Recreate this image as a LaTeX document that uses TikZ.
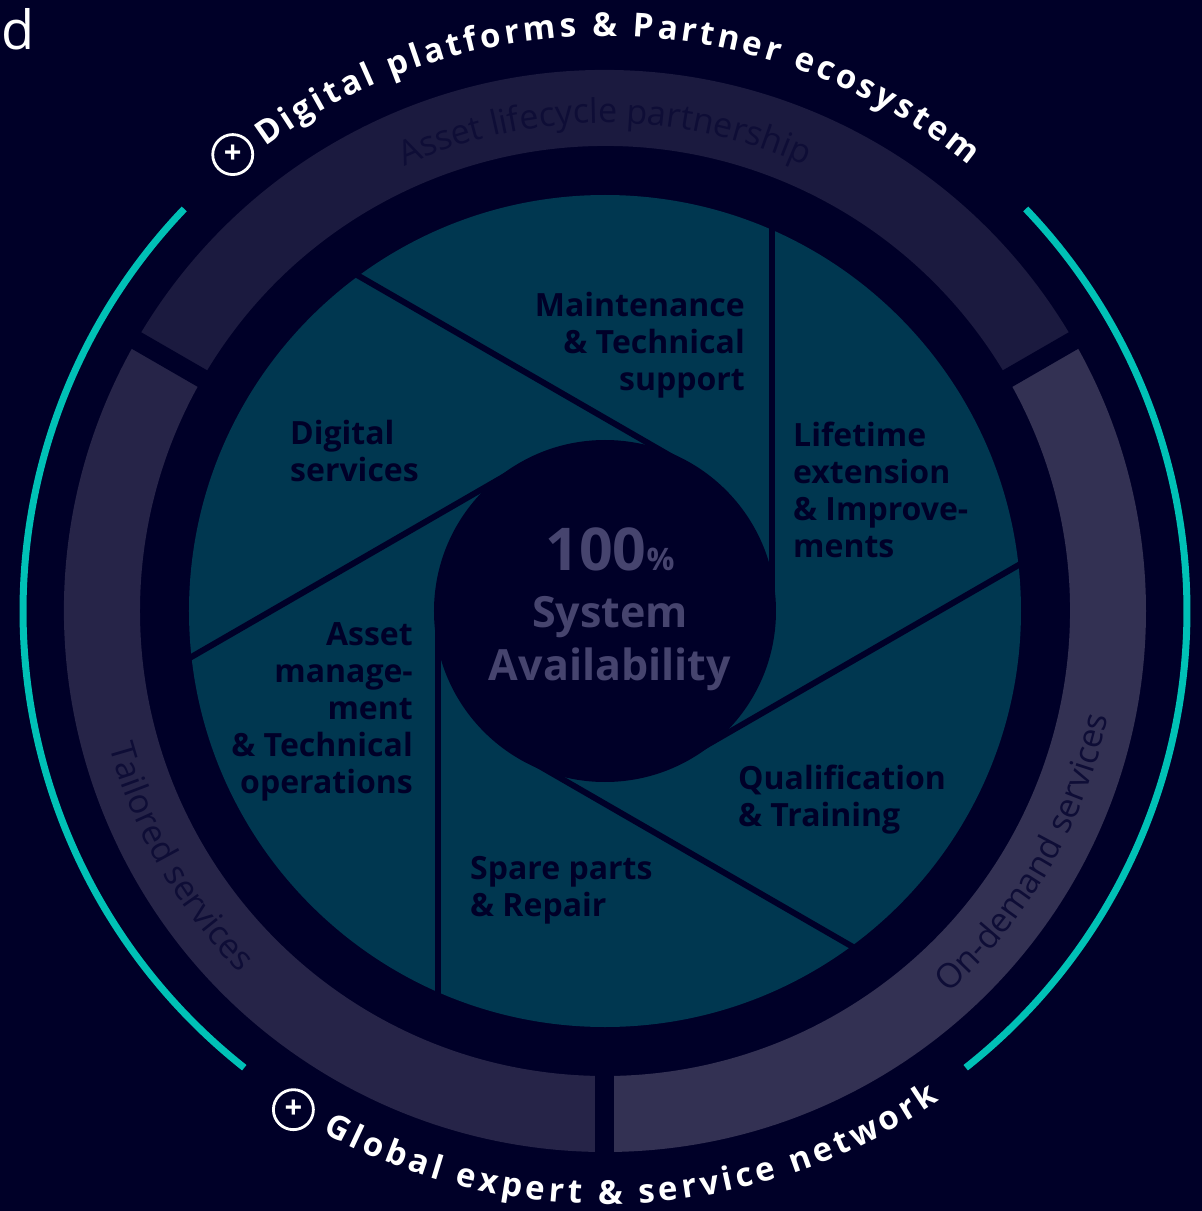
\documentclass[tikz,border=0pt]{standalone}
\usepackage{fontspec}
\setmainfont{Open Sans}
\usetikzlibrary{positioning,decorations.text}

\definecolor{navy}{HTML}{000028}
\definecolor{petrol}{HTML}{003750}
\definecolor{ringteal}{HTML}{00C1B6}
\definecolor{bandtop}{HTML}{1B1A3F}
\definecolor{bandleft}{HTML}{262448}
\definecolor{bandright}{HTML}{333153}
\definecolor{bandink}{HTML}{0E0D36}
\definecolor{hubink}{HTML}{46446E}

\begin{document}
\begin{tikzpicture}[x=1pt,y=1pt,
   blade/.style={font=\bfseries\fontsize{32}{37}\selectfont,text=navy,inner sep=0pt},
   hub/.style={font=\bfseries\fontsize{43}{43}\selectfont,text=hubink,inner sep=0pt,anchor=base},
   bandtext/.style={decorate,decoration={text along path,text align=center,
      text={|\fontsize{34}{34}\selectfont\color{bandink}|#1}}},
   ringtext/.style={decorate,decoration={text along path,text align={fit to path},
      text={|\bfseries\fontsize{33}{33}\selectfont\color{white}|#1}}},
   plusmark/.style={circle,draw=white,line width=2.8pt,minimum size=40pt,inner sep=0pt,
      text=white,font=\bfseries\fontsize{31}{31}\selectfont}]
   \useasboundingbox (-605,-600) rectangle (597,611);
   \fill[navy] (-605,-600) rectangle (597,611);

   % outer band
   \foreach \s/\e/\c in {30/150/bandtop,150/270/bandleft,270/390/bandright}
      \fill[\c] (\s:541) arc[start angle=\s,end angle=\e,radius=541]
         -- (\e:465) arc[start angle=\e,end angle=\s,radius=465] -- cycle;
   \foreach \a in {30,150,270}
      \draw[navy,line width=19pt] (\a:455) -- (\a:550);

   % shutter
   \fill[petrol] (0,0) circle (416);
   \foreach \a in {0,60,...,300}
      \draw[navy,line width=6pt] (\a:167) -- ++(\a+90:390);
   \fill[navy] (0,0) circle (171);

   % teal arcs
   \draw[ringteal,line width=7pt] (136.3:582) arc[start angle=136.3,end angle=231.7,radius=582];
   \draw[ringteal,line width=7pt] (-51.7:582) arc[start angle=-51.7,end angle=43.7,radius=582];

   \node[plusmark] (plustop) at (129.2:589) {+};
   \node[plusmark] (plusbottom) at (238:588) {+};
   \path[ringtext={Digital platforms {\&} Partner ecosystem}]
      (126.2:575) arc[start angle=126.2,end angle=50.8,radius=575];
   \path[ringtext={Global expert {\&} service network}]
      (241.6:593) arc[start angle=241.6,end angle=304.3,radius=593];

   \path[bandtext={Asset lifecycle partnership}]
      (140:488) arc[start angle=140,end angle=40,radius=488];
   \path[bandtext={Tailored services}]
      (180:514) arc[start angle=180,end angle=240,radius=514];
   \path[bandtext={On-demand services}]
      (300:514) arc[start angle=300,end angle=360,radius=514];

   \node[blade,anchor=north east,align=right] (maint) at (140,319) {Maintenance\\\& Technical\\support};
   \node[blade,anchor=north west,align=left] (life) at (188,189) {Lifetime\\extension\\\& Improve-\\ments};
   \node[blade,anchor=north west,align=left] (digital) at (-315,191) {Digital\\services};
   \node[blade,anchor=north east,align=right] (asset) at (-192,-11) {Asset\\manage-\\ment\\\& Technical\\operations};
   \node[blade,anchor=north west,align=left] (qual) at (133,-154) {Qualification\\\& Training};
   \node[blade,anchor=north west,align=left] (spare) at (-135,-245) {Spare parts\\\& Repair};

   \node[hub] (hubpct) at (5,41) {\fontsize{59}{59}\selectfont 100\fontsize{31}{31}\selectfont\%};
   \node[hub] (hubsys) at (5,-16) {System};
   \node[hub] (hubavail) at (5,-69) {Availability};

   \node[text=white,font=\fontsize{54}{54}\selectfont,anchor=base east,inner sep=0pt] (cutword) at (-570,561) {d};
\end{tikzpicture}
\end{document}
